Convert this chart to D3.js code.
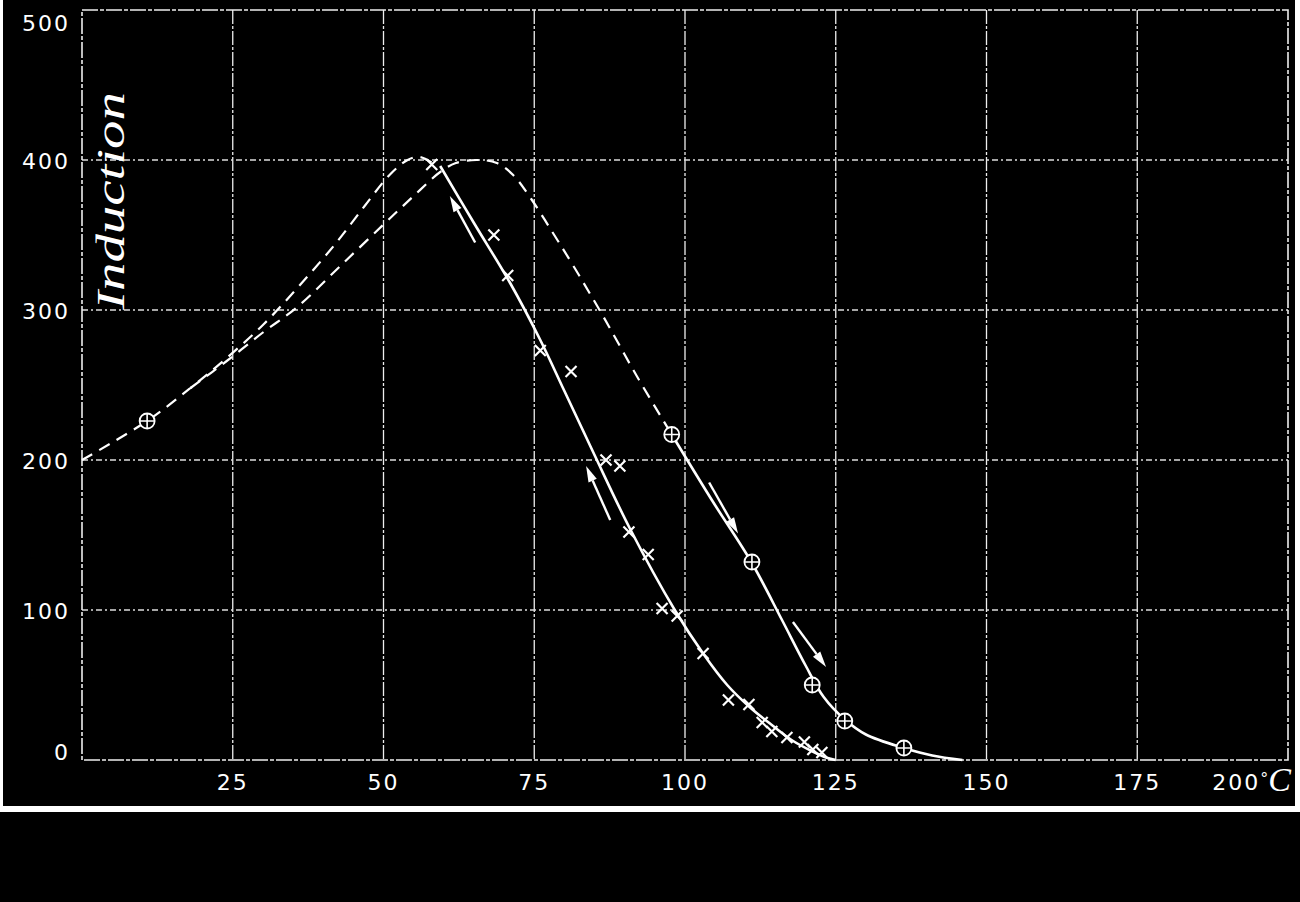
<!DOCTYPE html>
<html>
<head>
<meta charset="utf-8">
<script src="https://cdn.jsdelivr.net/npm/d3@7/dist/d3.min.js"></script>
<style>
  body { margin: 0; background: #fff; }
  svg { display: block; }
</style>
</head>
<body>
<svg id="chart" width="1300" height="902"></svg>
<script>

// tick values
var xTicks = [25, 50, 75, 100, 125, 150, 175, 200];
var yTicks = [0, 100, 200, 300, 400, 500];

// first heating, dashed, from the left axis up to the peak near 56 C
var upperDashX = [0, 10.8, 18, 24, 30, 36, 42, 47, 51, 54, 56, 58.5];
var upperDashY = [200, 226, 248, 268, 290, 316, 344, 370, 390, 400, 402, 397];

// second heating branch, dashed, peak near 65 C
var lowerDashX = [18, 24, 30, 35.7, 43, 50, 55, 59.4, 62, 65.5, 68.8, 71.5, 74.5, 78, 81.4, 86.4, 92, 97.8];
var lowerDashY = [248, 266, 285, 302, 330, 357, 376, 392, 398, 400, 398, 390, 374, 352, 330, 296, 256, 217];

// heating, solid continuation
var heatX = [97.8, 104.5, 111, 116, 120, 123, 126.5, 130, 136.3, 141, 146];
var heatY = [217, 173, 132, 94, 63, 42, 27, 17, 8, 3, 0];

// cooling, solid
var coolX = [59.4, 65, 71, 76, 80, 84.8, 90.9, 98.3, 103, 107, 110.8, 114.5, 117.8, 121, 123.5, 125];
var coolY = [396, 358, 318, 280, 246, 205, 154, 100, 71, 50, 35, 23, 13, 6, 1.5, 0];

// observed points, crosses (cooling)
var crossX = [58, 68.3, 70.6, 76, 81.1, 86.9, 89.2, 90.7, 93.9, 96.2, 98.7, 103, 107.2, 110.6, 112.8, 114.4, 116.9, 119.8, 121.2, 122.7];
var crossY = [397, 350, 323, 273, 259, 200, 196, 152, 137, 101, 96, 71, 40, 37, 25, 19, 15, 12, 7, 5];

// observed points, circled crosses (heating)
var circX = [10.8, 97.8, 111.1, 121.1, 126.5, 136.3];
var circY = [226, 217, 132, 50, 26, 8];

// direction arrows: [x1, y1, x2, y2], head at the second point
var arrows = [
  [65.2, 345, 61, 376],
  [87.6, 160, 83.6, 196],
  [104, 185, 108.8, 151],
  [117.9, 92, 123.4, 62]
];

var svg = d3.select("#chart");

// scanned sheet
svg.append("rect").attr("x", 3).attr("y", 0).attr("width", 1292).attr("height", 806).attr("fill", "#000");
svg.append("rect").attr("x", 0).attr("y", 812).attr("width", 1300).attr("height", 90).attr("fill", "#000");

var x = d3.scaleLinear().domain([0, 200]).range([82, 1288]);
var y = d3.scaleLinear().domain([0, 500]).range([760, 10]);

// grid
svg.selectAll(".vgrid")
  .data(xTicks.slice(0, -1))
  .enter().append("line")
  .attr("x1", d => x(d)).attr("x2", d => x(d))
  .attr("y1", y(500)).attr("y2", y(0))
  .attr("stroke", "#eee").attr("stroke-width", 1.3)
  .attr("stroke-dasharray", "14,2,3,2");

svg.selectAll(".hgrid")
  .data(yTicks.slice(1, -1))
  .enter().append("line")
  .attr("x1", x(0)).attr("x2", x(200))
  .attr("y1", d => y(d)).attr("y2", d => y(d))
  .attr("stroke", "#ddd").attr("stroke-width", 1.3)
  .attr("stroke-dasharray", "6,3,2,3");

// frame
svg.append("rect")
  .attr("x", x(0)).attr("y", y(500))
  .attr("width", x(200) - x(0)).attr("height", y(0) - y(500))
  .attr("fill", "none").attr("stroke", "#eee").attr("stroke-width", 1.6)
  .attr("stroke-dasharray", "16,2,4,2");

// tick labels
svg.selectAll(".ylab")
  .data(yTicks)
  .enter().append("text")
  .attr("x", 70)
  .attr("y", d => Math.min(Math.max(y(d), 22), 751) + 9)
  .attr("text-anchor", "end")
  .attr("fill", "#fff")
  .attr("font-family", "DejaVu Sans")
  .attr("font-size", 22)
  .attr("letter-spacing", 2)
  .text(d => d);

svg.selectAll(".xlab")
  .data(xTicks.slice(0, -1))
  .enter().append("text")
  .attr("x", d => x(d))
  .attr("y", 790)
  .attr("text-anchor", "middle")
  .attr("fill", "#fff")
  .attr("font-family", "DejaVu Sans")
  .attr("font-size", 22)
  .attr("letter-spacing", 2)
  .text(d => d);

var last = svg.append("text")
  .attr("x", 1291).attr("y", 790)
  .attr("text-anchor", "end")
  .attr("fill", "#fff")
  .attr("font-family", "DejaVu Sans")
  .attr("font-size", 22);
last.append("tspan").attr("letter-spacing", 2).text(xTicks[xTicks.length - 1]);
last.append("tspan").attr("dy", -6).attr("font-size", 16).text("°");
last.append("tspan").attr("dy", 7).attr("font-family", "Liberation Serif")
  .attr("font-style", "italic").attr("font-size", 34).text("C");

// axis title
svg.append("text")
  .attr("transform", "translate(124,201) rotate(-90)")
  .attr("text-anchor", "middle")
  .attr("fill", "#fff")
  .attr("font-family", "Liberation Serif")
  .attr("font-style", "italic")
  .attr("font-size", 40)
  .attr("textLength", 218)
  .attr("lengthAdjust", "spacingAndGlyphs")
  .text("Induction");

// curves
function pts(xs, ys) { return xs.map((v, i) => [v, ys[i]]); }
var line = d3.line()
  .x(d => x(d[0])).y(d => y(d[1]))
  .curve(d3.curveCatmullRom.alpha(0.5));

svg.append("path").attr("d", line(pts(upperDashX, upperDashY)))
  .attr("fill", "none").attr("stroke", "#fff").attr("stroke-width", 2.2)
  .attr("stroke-dasharray", "12,8");
svg.append("path").attr("d", line(pts(lowerDashX, lowerDashY)))
  .attr("fill", "none").attr("stroke", "#fff").attr("stroke-width", 2.2)
  .attr("stroke-dasharray", "12,8");
svg.append("path").attr("d", line(pts(heatX, heatY)))
  .attr("fill", "none").attr("stroke", "#fff").attr("stroke-width", 2.6);
svg.append("path").attr("d", line(pts(coolX, coolY)))
  .attr("fill", "none").attr("stroke", "#fff").attr("stroke-width", 2.6);

// cross markers
var cs = 5.5;
svg.selectAll(".cross")
  .data(pts(crossX, crossY))
  .enter().append("path")
  .attr("d", d => {
    var cx = x(d[0]), cy = y(d[1]);
    return "M" + (cx - cs) + "," + (cy - cs) + "L" + (cx + cs) + "," + (cy + cs) +
           "M" + (cx - cs) + "," + (cy + cs) + "L" + (cx + cs) + "," + (cy - cs);
  })
  .attr("stroke", "#fff").attr("stroke-width", 2.2).attr("fill", "none");

// circled crosses
var circ = svg.selectAll(".circ")
  .data(pts(circX, circY))
  .enter().append("g")
  .attr("transform", d => "translate(" + x(d[0]) + "," + y(d[1]) + ")");
circ.append("circle").attr("r", 7.5).attr("fill", "#000").attr("stroke", "#fff").attr("stroke-width", 1.8);
circ.append("path").attr("d", "M-7.5,0H7.5M0,-7.5V7.5").attr("stroke", "#fff").attr("stroke-width", 1.6);

// arrows
arrows.forEach(function(a) {
  var x1 = x(a[0]), y1 = y(a[1]), x2 = x(a[2]), y2 = y(a[3]);
  var ang = Math.atan2(y2 - y1, x2 - x1);
  var len = 16, w = 4.5;
  var bx = x2 - len * Math.cos(ang), by = y2 - len * Math.sin(ang);
  svg.append("line")
    .attr("x1", x1).attr("y1", y1).attr("x2", bx).attr("y2", by)
    .attr("stroke", "#fff").attr("stroke-width", 2.4);
  svg.append("path")
    .attr("d", "M" + x2 + "," + y2 +
      "L" + (bx + w * Math.sin(ang)) + "," + (by - w * Math.cos(ang)) +
      "L" + (bx - w * Math.sin(ang)) + "," + (by + w * Math.cos(ang)) + "Z")
    .attr("fill", "#fff");
});

</script>
</body>
</html>
